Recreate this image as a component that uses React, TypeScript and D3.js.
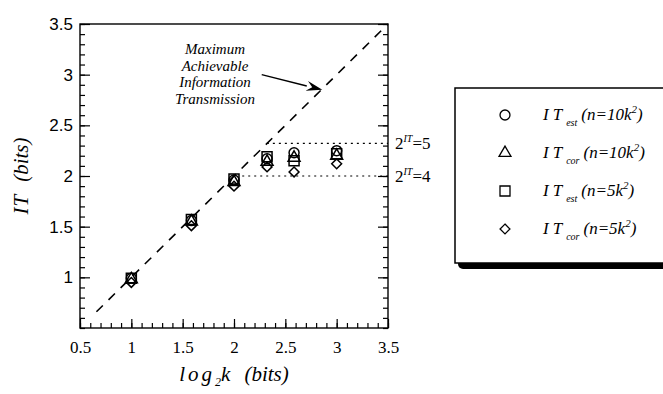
import React, { useEffect, useRef } from "react";
import * as d3 from "d3";

// log2 k for k = 2, 3, 4, 5, 6, 8
const log2k = [1, 1.585, 2, 2.322, 2.585, 3];

// IT values
const itEst10 = [0.99, 1.56, 1.96, 2.17, 2.23, 2.25];
const itCor10 = [0.98, 1.55, 1.94, 2.14, 2.18, 2.2];
const itEst5 = [0.99, 1.57, 1.97, 2.19, 2.15, 2.22];
const itCor5 = [0.95, 1.51, 1.9, 2.09, 2.04, 2.12];

const xTicks = [0.5, 1, 1.5, 2, 2.5, 3, 3.5];
const yTicks = [1, 1.5, 2, 2.5, 3, 3.5];

const seriesNames = [
  { sub: "est", n: "10k" },
  { sub: "cor", n: "10k" },
  { sub: "est", n: "5k" },
  { sub: "cor", n: "5k" },
];

const annotationLines = ["Maximum", "Achievable", "Information", "Transmission"];

const W = 663,
  H = 394;
const margin = { top: 24, right: 275, bottom: 66, left: 80 };

const x = d3.scaleLinear().domain([0.5, 3.5]).range([margin.left, W - margin.right]);
const y = d3.scaleLinear().domain([0.5, 3.5]).range([H - margin.bottom, margin.top]);

const symbols = [
  d3.symbol().type(d3.symbolCircle).size(78),
  d3.symbol().type(d3.symbolTriangle).size(62),
  d3.symbol().type(d3.symbolSquare).size(100),
  d3.symbol().type(d3.symbolDiamond2).size(62),
];

const serif = "'Liberation Serif', 'DejaVu Serif', serif";
const sans = "'Liberation Sans', Arial, sans-serif";
const fmt = (d: d3.NumberValue) => String(+d);

export default function App() {
  const axRef = useRef<SVGGElement>(null);

  useEffect(() => {
    const g = d3.select(axRef.current);
    g.selectAll("*").remove();
    const x0 = x.range()[0],
      x1 = x.range()[1];
    const y0 = y.range()[0],
      y1 = y.range()[1];
    const minor = d3.range(0.5, 3.51, 0.1);

    // bottom axis: ticks pointing up
    const bx = g.append("g").attr("transform", `translate(0,${y0})`);
    bx.call(d3.axisBottom(x).tickValues(minor).tickSize(-5).tickFormat(() => ""));
    bx.select(".domain").remove();
    const bxMaj = g.append("g").attr("transform", `translate(0,${y0})`);
    bxMaj.call(d3.axisBottom(x).tickValues(xTicks).tickSize(-9).tickFormat(fmt));
    bxMaj.select(".domain").remove();
    bxMaj
      .selectAll("text")
      .attr("y", 13)
      .attr("font-family", serif)
      .attr("font-size", 17)
      .attr("fill", "#000");

    // left axis
    const ly = g.append("g").attr("transform", `translate(${x0},0)`);
    ly.call(d3.axisLeft(y).tickValues(minor).tickSize(-5).tickFormat(() => ""));
    ly.select(".domain").remove();
    const lyMaj = g.append("g").attr("transform", `translate(${x0},0)`);
    lyMaj.call(d3.axisLeft(y).tickValues(yTicks).tickSize(-10).tickFormat(fmt));
    lyMaj.select(".domain").remove();
    lyMaj
      .selectAll("text")
      .attr("x", -7)
      .attr("font-family", sans)
      .attr("font-size", 17)
      .attr("fill", "#000");

    // right axis, ticks inward, no labels
    const ry = g.append("g").attr("transform", `translate(${x1},0)`);
    ry.call(d3.axisRight(y).tickValues(minor).tickSize(-5).tickFormat(() => ""));
    ry.select(".domain").remove();
    const ryMaj = g.append("g").attr("transform", `translate(${x1},0)`);
    ryMaj.call(d3.axisRight(y).tickValues(yTicks).tickSize(-10).tickFormat(() => ""));
    ryMaj.select(".domain").remove();

    g.selectAll(".tick line").attr("stroke", "#000").attr("stroke-width", 1.2);

    // frame
    g.append("rect")
      .attr("x", x0)
      .attr("y", y1)
      .attr("width", x1 - x0)
      .attr("height", y0 - y1)
      .attr("fill", "none")
      .attr("stroke", "#000")
      .attr("stroke-width", 1.4);
  }, []);

  const diag = d3.line<number>()
    .x((d) => x(d))
    .y((d) => y(d));

  const arrowFrom = [2.27, 3.0];
  const arrowTo = [2.86, 2.85];
  const ax0 = x(arrowFrom[0]),
    ay0 = y(arrowFrom[1]),
    ax1 = x(arrowTo[0]),
    ay1 = y(arrowTo[1]);
  const ang = Math.atan2(ay1 - ay0, ax1 - ax0);
  const headLen = 16,
    headW = 5;
  const bxp = ax1 - headLen * Math.cos(ang),
    byp = ay1 - headLen * Math.sin(ang);
  const head = [
    [ax1, ay1],
    [bxp + headW * Math.sin(ang), byp - headW * Math.cos(ang)],
    [bxp + 0.35 * headLen * Math.cos(ang), byp + 0.35 * headLen * Math.sin(ang)],
    [bxp - headW * Math.sin(ang), byp + headW * Math.cos(ang)],
  ];

  const all = [itEst10, itCor10, itEst5, itCor5];
  const levels = [Math.log2(5), 2];
  const levelStart = [2.32, 2.08];

  const legX = 455,
    legY = 88;
  const rowY = [115, 153, 191, 229];

  return (
    <svg
      width={W}
      height={H}
      style={{ position: "absolute", left: 0, top: 0, background: "#fff" }}
    >
      <rect width={W} height={H} fill="#fff" />
      <g ref={axRef} />

      {/* y = x reference */}
      <path
        d={diag([0.66, 3.5]) || ""}
        stroke="#000"
        strokeWidth={1.6}
        strokeDasharray="9,8"
        fill="none"
      />

      {/* 2^IT = 5 and 2^IT = 4 levels */}
      {levels.map((lv, i) => (
        <line
          key={i}
          x1={x(levelStart[i])}
          x2={x(3.5)}
          y1={y(lv)}
          y2={y(lv)}
          stroke="#000"
          strokeWidth={1.2}
          strokeDasharray="2,4"
        />
      ))}
      {[5, 4].map((v, i) => (
        <text
          key={v}
          x={x(3.5) + 7}
          y={y(levels[i]) + 6}
          fontFamily={serif}
          fontSize={17}
        >
          2
          <tspan fontSize={10} dy={-7} fontStyle="italic">
            IT
          </tspan>
          <tspan dy={7}>={v}</tspan>
        </text>
      ))}

      {/* markers */}
      {all.map((vals, si) =>
        vals.map((v, i) => (
          <path
            key={`${si}-${i}`}
            d={symbols[si]() || ""}
            transform={`translate(${x(log2k[i])},${y(v)})`}
            fill="none"
            stroke="#000"
            strokeWidth={1.5}
          />
        ))
      )}

      {/* annotation */}
      <text fontFamily={serif} fontStyle="italic" fontSize={15} textAnchor="middle">
        {annotationLines.map((l, i) => (
          <tspan key={l} x={215} y={54 + i * 16.5}>
            {l}
          </tspan>
        ))}
      </text>
      <line x1={ax0} y1={ay0} x2={bxp} y2={byp} stroke="#000" strokeWidth={1.4} />
      <polygon points={head.map((p) => p.join(",")).join(" ")} fill="#000" />

      {/* axis titles */}
      <text
        x={234}
        y={381}
        textAnchor="middle"
        fontFamily={serif}
        fontStyle="italic"
        fontSize={21}
      >
        <tspan letterSpacing={3}>log</tspan>
        <tspan fontSize={12} dy={5}>
          2
        </tspan>
        <tspan dy={-5}>k</tspan>
        <tspan dx={14}>(bits)</tspan>
      </text>
      <text
        transform={`translate(28,${176}) rotate(-90)`}
        textAnchor="middle"
        fontFamily={serif}
        fontStyle="italic"
        fontSize={21}
      >
        <tspan letterSpacing={1}>IT</tspan>
        <tspan dx={12}>(bits)</tspan>
      </text>

      {/* legend */}
      <rect x={legX + 3} y={legY + 4} width={260} height={177} rx={5} fill="#000" />
      <rect
        x={legX}
        y={legY}
        width={260}
        height={175}
        fill="#fff"
        stroke="#000"
        strokeWidth={1.5}
      />
      {seriesNames.map((s, i) => (
        <g key={i}>
          <path
            d={symbols[i]() || ""}
            transform={`translate(${505},${rowY[i]})`}
            fill="none"
            stroke="#000"
            strokeWidth={1.3}
          />
          <text x={543} y={rowY[i] + 5} fontFamily={serif} fontStyle="italic" fontSize={17}>
            <tspan letterSpacing={4}>IT</tspan>
            <tspan fontSize={10} dy={6}>
              {s.sub}
            </tspan>
            <tspan dy={-6} dx={4}>
              (n={s.n}
            </tspan>
            <tspan fontSize={11} dy={-7}>
              2
            </tspan>
            <tspan dy={7}>)</tspan>
          </text>
        </g>
      ))}
    </svg>
  );
}
